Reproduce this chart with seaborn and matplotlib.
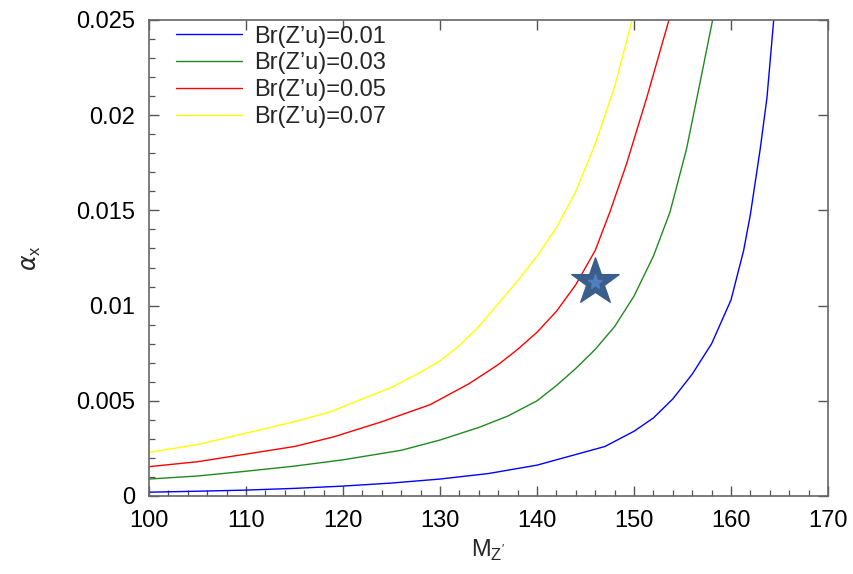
import matplotlib
matplotlib.use("Agg")
import matplotlib.pyplot as plt
import seaborn as sns
import pandas as pd
from matplotlib.ticker import MultipleLocator

# ---- data ----
blue_x = [100, 105, 110, 115, 120, 125, 130, 135, 140, 144, 147, 150, 152, 154, 156, 158, 160, 161.3, 162, 163, 163.7, 164.4]
blue_y = [0.0002, 0.00025, 0.00031, 0.0004, 0.00052, 0.00068, 0.00089, 0.00118, 0.00162, 0.00218, 0.0026, 0.0034,
          0.0041, 0.0051, 0.0064, 0.0080, 0.0103, 0.0129, 0.0148, 0.0182, 0.0209, 0.025]

green_x = [100, 105, 110, 115, 120, 126, 130, 134, 137, 140, 142, 144, 146, 148, 150, 152, 153.7, 155.4, 156.8, 158.1]
green_y = [0.00089, 0.00105, 0.0013, 0.00157, 0.0019, 0.0024, 0.00294, 0.0036, 0.0042, 0.0050, 0.0058, 0.0067,
           0.0077, 0.0089, 0.0105, 0.0126, 0.0149, 0.0182, 0.0217, 0.025]

red_x = [100, 105, 110, 115, 119, 124, 129, 133, 136, 138, 140, 142, 144, 146, 147.5, 149.2, 151.3, 153.6]
red_y = [0.00154, 0.0018, 0.0022, 0.0026, 0.0031, 0.0039, 0.0048, 0.0059, 0.0069, 0.0077, 0.0086, 0.0097,
         0.0111, 0.0129, 0.0149, 0.0174, 0.0209, 0.025]

yellow_x = [100, 105, 110, 115, 118.7, 122, 125, 128, 130, 132, 134, 136, 138, 140, 142, 144, 146, 148, 149.8]
yellow_y = [0.00229, 0.0027, 0.0033, 0.0039, 0.00442, 0.0051, 0.0057, 0.0065, 0.0071, 0.0079, 0.0089, 0.0101,
            0.0113, 0.0126, 0.0141, 0.0160, 0.0185, 0.0215, 0.025]

labels = ["Br(Z’u)=0.01", "Br(Z’u)=0.03", "Br(Z’u)=0.05", "Br(Z’u)=0.07"]
colors = ["#0000ff", "#1f8a1f", "#ff0000", "#ffff00"]

star_x = [146.0]
star_y = [0.01125]

xticks = [100, 110, 120, 130, 140, 150, 160, 170]
yticks = [0, 0.005, 0.01, 0.015, 0.02, 0.025]
ytick_labels = ["0", "0.005", "0.01", "0.015", "0.02", "0.025"]
xtick_labels = ["100", "110", "120", "130", "140", "150", "160", "170"]

# ---- figure ----
sns.set_style("white")
plt.rcParams["font.family"] = ["Liberation Sans", "DejaVu Sans"]

fig = plt.figure(figsize=(8.54, 5.74), dpi=100)
ax = fig.add_axes([0.1745, 0.1359, 0.7951, 0.8293])

series = [(blue_x, blue_y), (green_x, green_y), (red_x, red_y), (yellow_x, yellow_y)]
for (xs, ys), lab, col in zip(series, labels, colors):
    df = pd.DataFrame({"M": xs, "alpha": ys})
    sns.lineplot(data=df, x="M", y="alpha", ax=ax, color=col, lw=1.0, label=lab, sort=True)

ax.plot(star_x, star_y, marker="*", markersize=36, color="#3b5e8c", mec="#385d8a", mew=0.8, ls="none")
ax.plot(star_x, star_y, marker="*", markersize=11, color="#4f7fbd", mec="#4f7fbd", ls="none")

ax.set_xlim(100, 170)
ax.set_ylim(0, 0.025)
ax.set_xticks(xticks)
ax.set_xticklabels(xtick_labels)
ax.set_yticks(yticks)
ax.set_yticklabels(ytick_labels)
ax.xaxis.set_minor_locator(MultipleLocator(2))
ax.yaxis.set_minor_locator(MultipleLocator(0.001))

ax.tick_params(which="major", direction="in", length=7, width=1.0, color="#555555",
               top=True, right=True, bottom=True, left=True, labelsize=17, pad=10, labelcolor="black")
ax.tick_params(which="minor", direction="in", length=4, width=0.9, color="#555555",
               top=False, right=False, bottom=True, left=True)

for s in ax.spines.values():
    s.set_color("#666666")
    s.set_linewidth(1.2)

ax.set_xlabel(r"M$_{\mathregular{Z'}}$", fontsize=17, labelpad=4)
ax.set_ylabel(r"$\alpha_{\mathregular{x}}$", fontsize=17, labelpad=24)

leg = ax.legend(loc="upper left", frameon=False, fontsize=17, handlelength=2.8,
                labelspacing=0.2, borderaxespad=0.0, handletextpad=0.5,
                bbox_to_anchor=(0.026, 1.008))

fig.savefig("out.png", dpi=100)
